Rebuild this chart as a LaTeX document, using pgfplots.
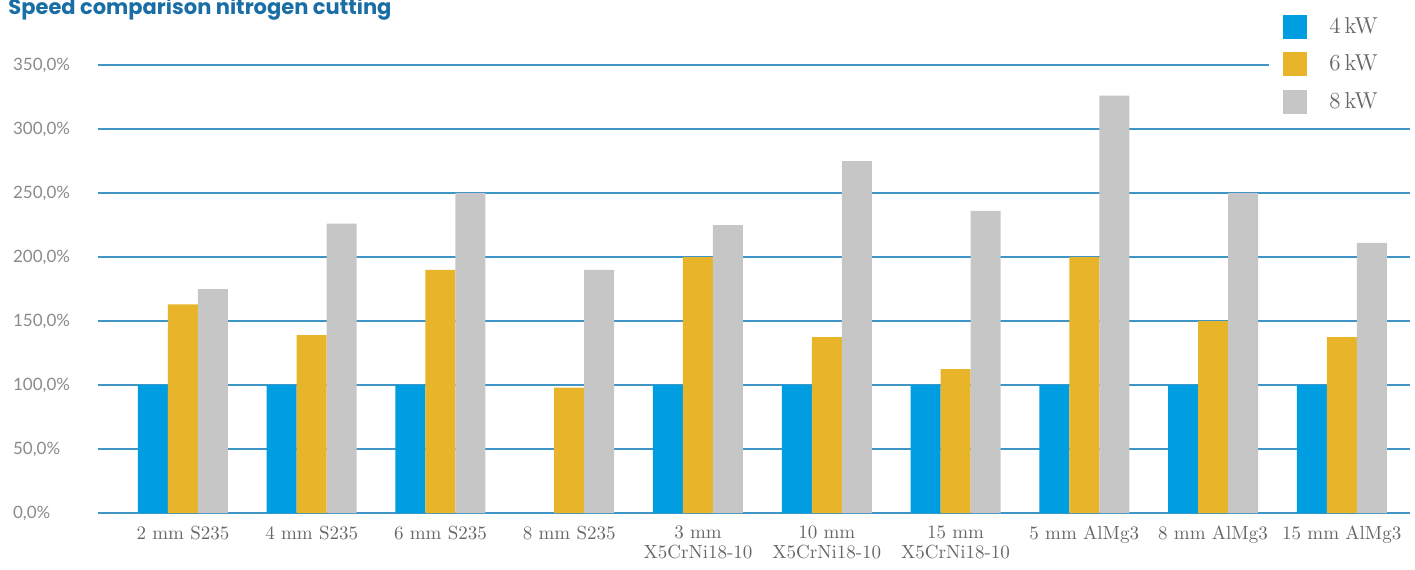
\documentclass[border=0pt]{standalone}
\usepackage{fontspec}
\usepackage{pgfplots}
\pgfplotsset{compat=1.18}
\newfontfamily\tickfont{Lato}
\newfontfamily\titlefont{Poppins}
\definecolor{kwfour}{HTML}{009EE0}
\definecolor{kwsix}{HTML}{E8B52A}
\definecolor{kweight}{HTML}{C6C6C6}
\definecolor{gridblue}{HTML}{3F96C6}
\definecolor{titleblue}{HTML}{1A6EA6}
\definecolor{ticktext}{HTML}{8A8A8A}
\definecolor{cattext}{HTML}{666666}

\begin{document}
\begin{tikzpicture}
\begin{axis}[
    name=ax,
    scale only axis,
    width=656pt, height=224pt,
    ybar=0pt, bar width=15pt,
    xmin=-0.66, xmax=9.53,
    ymin=0, ymax=350,
    ytick={0,50,...,350},
    xtick={0,...,9},
    xticklabels={2 mm S235,4 mm S235,6 mm S235,8 mm S235,3 mm\\X5CrNi18-10,10 mm\\X5CrNi18-10,15 mm\\X5CrNi18-10,5 mm AlMg3,8 mm AlMg3,15 mm AlMg3},
    xticklabel style={align=center, font=\fontsize{9.5}{10}\selectfont, text=cattext, anchor=north, yshift=-3pt},
    /pgf/number format/assume math mode=true,
    yticklabel={\pgfmathprintnumber[fixed,fixed zerofill,precision=1,use comma]{\tick}\%},
    yticklabel style={anchor=west, xshift=-46pt, font=\tickfont\fontsize{8.5}{9}\selectfont, text=ticktext},
    ymajorgrids, grid style={gridblue, line width=0.8pt},
    axis line style={draw=none},
    major tick length=0pt,
    legend style={at={(axis description cs:0.8926,1.13)}, anchor=north west, fill=white, draw=none,
        font=\fontsize{11.5}{12}\selectfont, text=cattext, row sep=5.4pt, inner xsep=7pt, inner ysep=3pt},
    legend image code/.code={\fill[#1] (0pt,-6pt) rectangle (12pt,6pt);},
    legend cell align=left,
]
\addplot[fill=kwfour, draw=none] coordinates {
    (0,100) (1,100) (2,100) (4,100) (5,100) (6,100) (7,100) (8,100) (9,100)
};
\addplot[fill=kwsix, draw=none] coordinates {
    (0,163) (1,139) (2,190) (3,98) (4,200) (5,137.5) (6,112.5) (7,200) (8,150) (9,137.5)
};
\addplot[fill=kweight, draw=none] coordinates {
    (0,175) (1,226) (2,250) (3,190) (4,225) (5,275) (6,236) (7,326) (8,250) (9,211)
};
\legend{\makebox[46pt][l]{\hspace{9pt}4\,kW},\makebox[46pt][l]{\hspace{9pt}6\,kW},\makebox[46pt][l]{\hspace{9pt}8\,kW}}
\end{axis}
\node[anchor=base west, inner sep=0pt, text=titleblue, font=\titlefont\bfseries\fontsize{10.5}{12}\selectfont]
    at ([xshift=-45pt, yshift=25.5pt]ax.north west) {Speed comparison nitrogen cutting};
\pgfresetboundingbox
\path[use as bounding box] ([xshift=-49pt, yshift=-28pt]ax.south west) rectangle ([xshift=2.5pt, yshift=32.5pt]ax.north east);
\end{tikzpicture}
\end{document}
